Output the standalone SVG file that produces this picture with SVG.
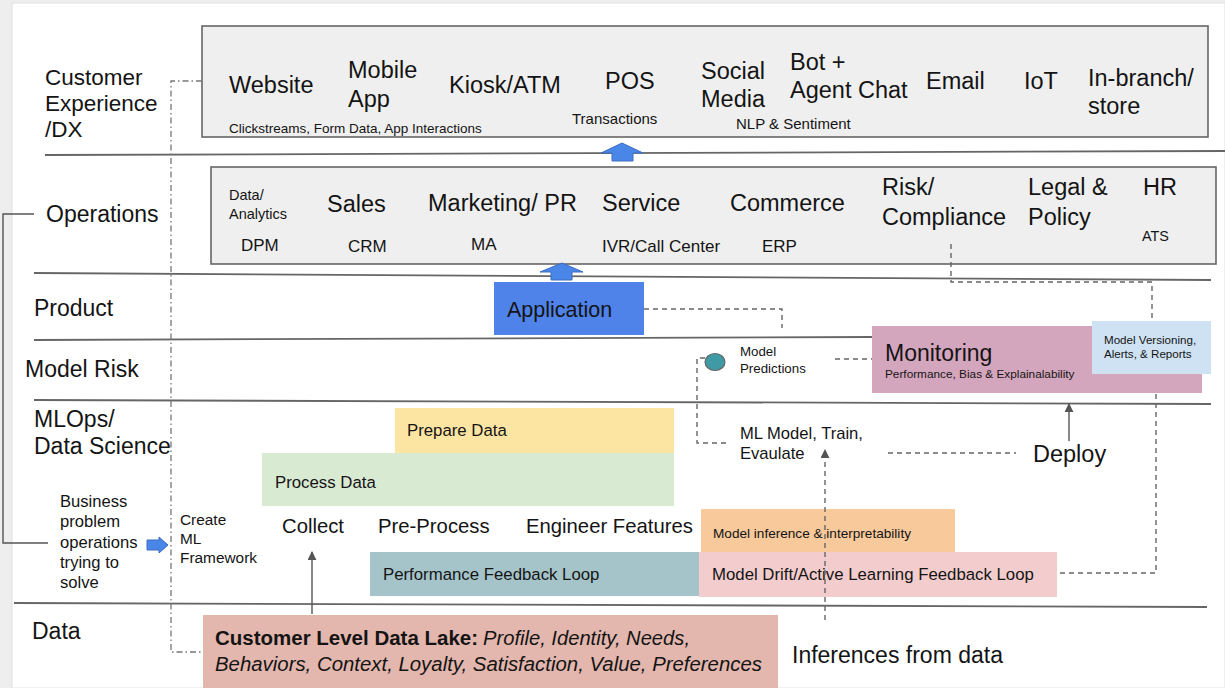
<svg xmlns="http://www.w3.org/2000/svg" width="1225" height="688" viewBox="0 0 1225 688">
  <style>
    text { font-family: "Liberation Sans", Arial, sans-serif; fill: #141414; }
    .big { font-size: 23.5px; }
    .lbl { font-size: 23px; }
    .mid { font-size: 16.8px; }
    .sm { font-size: 15px; }
    .xs { font-size: 13.3px; }
    .rule { stroke: #666; stroke-width: 1.8; fill: none; }
    .dash { stroke: #666; stroke-width: 1.4; fill: none; stroke-dasharray: 5 4; }
    .dashdot { stroke: #777; stroke-width: 1.3; fill: none; stroke-dasharray: 6 3 1.5 3; }
    .solid { stroke: #555; stroke-width: 1.4; fill: none; }
    .panel { fill: #efefef; stroke: #666; stroke-width: 1.6; }
    .blk { fill: #4a86e8; stroke: #3c6cc0; stroke-width: 1; }
  </style>
  <defs>
    <marker id="head" viewBox="0 0 10 10" refX="9" refY="5" markerWidth="9" markerHeight="9" markerUnits="userSpaceOnUse" orient="auto">
      <path d="M0,0 L10,5 L0,10 z" fill="#555"/>
    </marker>
  </defs>

  <!-- page -->
  <rect x="0" y="0" width="1225" height="688" fill="#eeeeee"/>
  <rect x="12" y="3" width="1213" height="685" fill="#ffffff" stroke="#e0e0e0" stroke-width="1"/>

  <!-- lane rules -->
  <g id="lanes">
    <line class="rule" x1="45" y1="155" x2="1225" y2="151"/>
    <line class="rule" x1="34" y1="273" x2="1211" y2="280"/>
    <line class="rule" x1="34" y1="340" x2="872" y2="337"/>
    <line class="rule" x1="34" y1="400" x2="1211" y2="404"/>
    <line class="rule" x1="14" y1="603" x2="1207" y2="607"/>
  </g>

  <!-- lane labels -->
  <g id="lane-labels">
    <text class="lbl" x="45" y="85" style="font-size:22.5px">Customer</text>
    <text class="lbl" x="45" y="111" style="font-size:22.5px">Experience</text>
    <text class="lbl" x="45" y="137" style="font-size:22.5px">/DX</text>
    <text class="lbl" x="46" y="222">Operations</text>
    <text class="lbl" x="34" y="316">Product</text>
    <text class="lbl" x="25" y="377">Model Risk</text>
    <text class="lbl" x="34" y="427">MLOps/</text>
    <text class="lbl" x="34" y="454">Data Science</text>
    <text class="lbl" x="32" y="639">Data</text>
  </g>

  <!-- customer experience channels -->
  <g id="cx-channels">
    <rect class="panel" x="202" y="26" width="1006" height="111"/>
    <text class="big" x="229" y="93">Website</text>
    <text class="big" x="348" y="78">Mobile</text>
    <text class="big" x="348" y="107">App</text>
    <text class="big" x="449" y="93">Kiosk/ATM</text>
    <text class="big" x="605" y="89">POS</text>
    <text class="big" x="701" y="79">Social</text>
    <text class="big" x="701" y="107">Media</text>
    <text class="big" x="790" y="70">Bot +</text>
    <text class="big" x="790" y="98">Agent Chat</text>
    <text class="big" x="926" y="89">Email</text>
    <text class="big" x="1024" y="89">IoT</text>
    <text class="big" x="1088" y="86">In-branch/</text>
    <text class="big" x="1088" y="114">store</text>
    <text x="229" y="133" style="font-size:13.5px">Clickstreams, Form Data, App Interactions</text>
    <text class="sm" x="572" y="124">Transactions</text>
    <text class="sm" x="736" y="129">NLP &amp; Sentiment</text>
  </g>

  <!-- operations functions -->
  <g id="operations">
    <rect class="panel" x="211" y="167" width="1005" height="97"/>
    <text x="229" y="200" style="font-size:14.5px">Data/</text>
    <text x="229" y="219" style="font-size:14.5px">Analytics</text>
    <text class="big" x="327" y="212">Sales</text>
    <text class="big" x="428" y="211">Marketing/ PR</text>
    <text class="big" x="602" y="211">Service</text>
    <text class="big" x="730" y="211">Commerce</text>
    <text class="big" x="882" y="195">Risk/</text>
    <text class="big" x="882" y="225">Compliance</text>
    <text class="big" x="1028" y="195">Legal &amp;</text>
    <text class="big" x="1028" y="225">Policy</text>
    <text class="big" x="1143" y="195">HR</text>
    <text x="241" y="251" style="font-size:17px">DPM</text>
    <text x="348" y="252" style="font-size:17px">CRM</text>
    <text x="471" y="250" style="font-size:17px">MA</text>
    <text x="602" y="252" style="font-size:17px">IVR/Call Center</text>
    <text x="762" y="252" style="font-size:17px">ERP</text>
    <text x="1142" y="241" style="font-size:14.4px">ATS</text>
  </g>

  <!-- product -->
  <g id="application">
    <rect x="494" y="282" width="150" height="53" fill="#4f83ea"/>
    <text x="507" y="317" style="font-size:21.5px">Application</text>
  </g>

  <!-- model risk -->
  <g id="model-predictions">
    <ellipse cx="715" cy="362" rx="10" ry="8.5" fill="#3f9aa5" stroke="#666" stroke-width="1.2"/>
    <text class="xs" x="740" y="356">Model</text>
    <text class="xs" x="740" y="373">Predictions</text>
  </g>
  <g id="monitoring">
    <rect x="872" y="326" width="330" height="67" fill="#d4a6be"/>
    <text x="885" y="361" style="font-size:23px">Monitoring</text>
    <text x="885" y="378" style="font-size:11.8px">Performance, Bias &amp; Explainalability</text>
  </g>
  <g id="model-versioning">
    <rect x="1092" y="321" width="119" height="53" fill="#cfe2f3"/>
    <text x="1104" y="344" style="font-size:11.6px">Model Versioning,</text>
    <text x="1104" y="358" style="font-size:11.6px">Alerts, &amp; Reports</text>
  </g>

  <!-- MLOps / data science -->
  <g id="prepare-data">
    <rect x="395" y="408" width="279" height="45" fill="#fce5a3"/>
    <text class="mid" x="407" y="436">Prepare Data</text>
  </g>
  <g id="process-data">
    <rect x="262" y="453" width="412" height="53" fill="#d9ead3"/>
    <text class="mid" x="275" y="488">Process Data</text>
  </g>
  <g id="ml-model">
    <text x="740" y="439" style="font-size:16.6px">ML Model, Train,</text>
    <text x="740" y="459" style="font-size:16.6px">Evaulate</text>
  </g>
  <g id="deploy">
    <text x="1033" y="462" style="font-size:23.5px">Deploy</text>
  </g>
  <g id="business-problem">
    <text x="60" y="507" style="font-size:16.6px">Business</text>
    <text x="60" y="527" style="font-size:16.6px">problem</text>
    <text x="60" y="548" style="font-size:16.6px">operations</text>
    <text x="60" y="568" style="font-size:16.6px">trying to</text>
    <text x="60" y="588" style="font-size:16.6px">solve</text>
  </g>
  <g id="create-framework">
    <text x="180" y="525" style="font-size:15.4px">Create</text>
    <text x="180" y="544" style="font-size:15.4px">ML</text>
    <text x="180" y="563" style="font-size:15.4px">Framework</text>
  </g>
  <g id="pipeline-steps">
    <text x="282" y="533" style="font-size:20.3px">Collect</text>
    <text x="378" y="533" style="font-size:20.3px">Pre-Process</text>
    <text x="526" y="533" style="font-size:20.3px">Engineer Features</text>
  </g>
  <g id="model-inference">
    <rect x="701" y="509" width="254" height="44" fill="#f8c99b"/>
    <text x="713" y="538" style="font-size:13.6px">Model inference &amp; interpretability</text>
  </g>
  <g id="performance-loop">
    <rect x="370" y="552" width="330" height="44" fill="#a5c4ca"/>
    <text class="mid" x="383" y="580">Performance Feedback Loop</text>
  </g>
  <g id="drift-loop">
    <rect x="699" y="552" width="358" height="45" fill="#f3cdcd"/>
    <text class="mid" x="712" y="580">Model Drift/Active Learning Feedback Loop</text>
  </g>

  <!-- data -->
  <g id="data-lake">
    <rect x="203" y="615" width="575" height="73" fill="#e3b7ae"/>
    <text x="215" y="645" style="font-size:20px;font-weight:bold" textLength="263" lengthAdjust="spacingAndGlyphs">Customer Level Data Lake:</text>
    <text x="483" y="645" style="font-size:20px;font-style:italic" textLength="207" lengthAdjust="spacingAndGlyphs">Profile, Identity, Needs,</text>
    <text x="215" y="671" style="font-size:20px;font-style:italic" textLength="547" lengthAdjust="spacingAndGlyphs">Behaviors, Context, Loyalty, Satisfaction, Value, Preferences</text>
  </g>
  <g id="inferences">
    <text x="792" y="663" style="font-size:23px">Inferences from data</text>
  </g>

  <!-- connectors, drawn over the boxes -->
  <g id="connectors">
    <!-- bracket from Operations to business problem -->
    <polyline class="solid" points="34,214 3,214 3,543 48,543"/>
    <!-- dash-dot frame from customer experience down to data lake -->
    <polyline class="dashdot" points="202,81 171,81 171,652 203,652"/>
    <!-- Application to Monitoring row -->
    <polyline class="dash" points="644,309 782,309 782,328"/>
    <!-- model predictions back to training -->
    <polyline class="dash" points="705,358 697,358 697,443 728,443"/>
    <!-- predictions to monitoring -->
    <line class="dash" x1="835" y1="359" x2="872" y2="359"/>
    <!-- risk/compliance to model versioning -->
    <polyline class="dash" points="951,244 951,282 1152,282 1152,321"/>
    <!-- monitoring down to drift loop -->
    <polyline class="dash" points="1156,394 1156,573 1058,573"/>
    <!-- evaluate to deploy -->
    <line class="dash" x1="888" y1="453" x2="1016" y2="453"/>
    <!-- deploy up to monitoring -->
    <line class="solid" x1="1069" y1="441" x2="1069" y2="404" marker-end="url(#head)"/>
    <!-- inferences up to training -->
    <line class="dash" x1="825" y1="620" x2="825" y2="450" marker-end="url(#head)"/>
    <!-- data lake up to collect -->
    <line class="solid" x1="312" y1="614" x2="312" y2="552" marker-end="url(#head)"/>
    <!-- block arrows -->
    <polygon class="blk" points="622,143 643,153 633,153 633,161 612,161 612,153 601,153"/>
    <polygon class="blk" points="562,263 583,272 572,272 572,280 551,280 551,272 540,272"/>
    <polygon class="blk" points="147,540 159,540 159,537 168,545 159,553 159,550 147,550"/>
  </g>
</svg>
